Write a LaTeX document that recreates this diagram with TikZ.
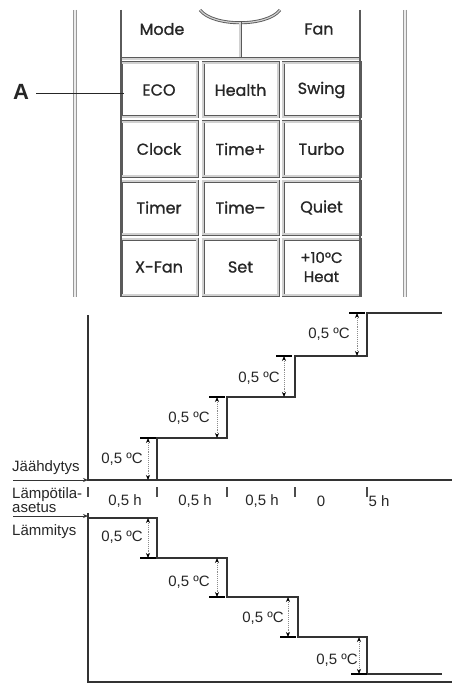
\documentclass[tikz,border=0pt]{standalone}
\usepackage{fontspec}
\setmainfont{Liberation Sans}
\newfontfamily\rfont[FakeBold=1]{Poppins}
\usetikzlibrary{arrows.meta}
\definecolor{rline}{HTML}{5A5A5A}
\definecolor{ink}{HTML}{262626}
\begin{document}
\begin{tikzpicture}[x=1pt,y=-1pt,
  rem/.style={draw=rline, line width=0.9pt, double=black!18, double distance=1.2pt},
  outer/.style={draw=black!40, line width=1pt, double=black!8, double distance=1.6pt},
  frame/.style={draw=rline, line width=2pt},
  btn/.style={rem, font=\rfont\fontsize{16}{17}\selectfont, text=ink, inner sep=0pt, align=center},
  rtext/.style={font=\rfont\fontsize{16}{17}\selectfont, text=ink},
  lab/.style={font=\fontsize{15}{14}\selectfont, text=ink, inner sep=0pt},
  axis/.style={draw=black!80, line width=1.4pt},
  stair/.style={draw=black!80, line width=1.5pt},
  dim/.style={draw=black!45, line width=0.9pt, densely dotted, {Stealth[black,length=5pt,width=4pt]}-{Stealth[black,length=5pt,width=4pt]}},
  bar/.style={draw=black, line width=1.4pt},
  tickmark/.style={draw=black!70, line width=1.6pt},
  feed/.style={draw=black!80, line width=1pt, -{Stealth[length=5pt,width=4pt]}},
]
\useasboundingbox (0,0) rectangle (456,690);
% ---------------- remote ----------------
\draw[outer] (75,10) -- (75,297);
\draw[outer] (405,10) -- (405,297);
\draw[rem] (200,10) .. controls (213,27) and (267,27) .. (280,10);
\draw[rem] (240,22) -- (240,59);
\draw[rem] (121,59) -- (360,59);
\node[rtext] (mode) at (162,29) {Mode};
\node[rtext] (fan) at (319,29) {Fan};
\node[btn, minimum width=76pt, minimum height=54pt] (eco) at (159,90) {ECO};
\node[btn, minimum width=75pt, minimum height=54pt] (health) at (240.5,90) {Health};
\node[btn, minimum width=77pt, minimum height=54pt] (swing) at (321.5,90) {Swing};
\node[btn, minimum width=76pt, minimum height=54pt] (clock) at (159,149) {Clock};
\node[btn, minimum width=75pt, minimum height=54pt] (timep) at (240.5,149) {Time+};
\node[btn, minimum width=77pt, minimum height=54pt] (turbo) at (321.5,149) {Turbo};
\node[btn, minimum width=76pt, minimum height=53pt] (timer) at (159,207.5) {Timer};
\node[btn, minimum width=75pt, minimum height=53pt] (timem) at (240.5,207.5) {Time–};
\node[btn, minimum width=77pt, minimum height=53pt] (quiet) at (321.5,207.5) {Quiet};
\node[btn, minimum width=76pt, minimum height=56pt] (xfan) at (159,267) {X-Fan};
\node[btn, minimum width=75pt, minimum height=56pt] (set) at (240.5,267) {Set};
\node[btn, minimum width=77pt, minimum height=56pt, font=\rfont\fontsize{15}{19}\selectfont] (heat) at (321.5,267) {+10°C\\Heat};
\draw[frame] (121,10) -- (121,296);
\draw[frame] (360,10) -- (360,296);
\node[font=\bfseries\fontsize{22}{22}\selectfont, text=ink, inner sep=1pt] (A) at (21,92) {A};
\draw[draw=ink, line width=0.8pt] (A.east) ++(6,1) -- (124,93);
% ---------------- cooling ----------------
\draw[axis] (88,315) -- (88,480) -- (452,480);
\draw[stair] (157,480) -- (157,438) -- (227,438) -- (227,397) -- (295,397) -- (295,356) -- (367,356) -- (367,313) -- (442,313);
\draw[dim] (148,438) -- (148,480); \draw[bar] (140,438) -- (156,438);
\draw[dim] (217,397) -- (217,438); \draw[bar] (209,397) -- (225,397);
\draw[dim] (284,356) -- (284,397); \draw[bar] (276,356) -- (292,356);
\draw[dim] (357,313) -- (357,356); \draw[bar] (349,313) -- (365,313);
\node[lab] (c1) at (122,459) {0,5 ºC};
\node[lab] (c2) at (189,418) {0,5 ºC};
\node[lab] (c3) at (259,378) {0,5 ºC};
\node[lab] (c4) at (329,334) {0,5 ºC};
\node[lab, anchor=west] (cool) at (12,468) {Jäähdytys};
\coordinate (cs) at (13,480);
\coordinate (ce) at (88,480);
\draw[feed] (cs) -- (ce);
% ---------------- time row ----------------
\node[lab, anchor=west, align=left] (setp) at (12,500) {Lämpötila-\\asetus};
\foreach \x in {88,157,227,295,367} \draw[tickmark] (\x,487) -- (\x,497);
\node[lab] (t1) at (125,501) {0,5 h};
\node[lab] (t2) at (195,501) {0,5 h};
\node[lab] (t3) at (262,501) {0,5 h};
\node[lab] (t4) at (321,501) {0};
\node[lab] (t5) at (379,501) {5 h};
% ---------------- heating ----------------
\coordinate (hs) at (13,516);
\coordinate (he) at (88,516);
\draw[feed] (hs) -- (he);
\node[lab, anchor=west] (heatlab) at (12,532) {Lämmitys};
\draw[axis] (88,513) -- (88,682) -- (452,682);
\draw[stair] (88,518) -- (157,518) -- (157,558) -- (227,558) -- (227,597) -- (298,597) -- (298,637) -- (367,637) -- (367,674) -- (442,674);
\draw[dim] (148,518) -- (148,558); \draw[bar] (140,558) -- (156,558);
\draw[dim] (217,558) -- (217,597); \draw[bar] (209,597) -- (225,597);
\draw[dim] (288,597) -- (288,637); \draw[bar] (280,637) -- (296,637);
\draw[dim] (359,637) -- (359,674); \draw[bar] (351,674) -- (367,674);
\node[lab] (h1) at (122,537) {0,5 ºC};
\node[lab] (h2) at (189,582) {0,5 ºC};
\node[lab] (h3) at (263,618) {0,5 ºC};
\node[lab] (h4) at (337,660) {0,5 ºC};
\end{tikzpicture}
\end{document}
